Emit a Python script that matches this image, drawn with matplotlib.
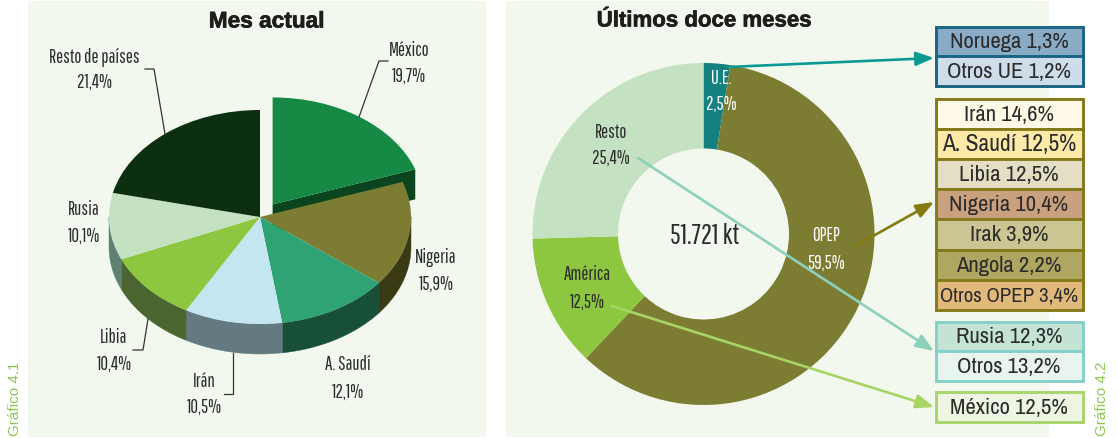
import numpy as np
import matplotlib
matplotlib.use('Agg')
import matplotlib.pyplot as plt
import matplotlib.patheffects as pe
from matplotlib.patches import Rectangle
import logging

logging.getLogger('matplotlib.font_manager').setLevel(logging.ERROR)

W, H = 1118, 439
PANEL = '#f2f8ee'
INK = '#2b2b2b'
NARROW = ['Pathway Gothic One', 'Antonio', 'Liberation Sans']
BOX_FONT = ['Archivo Narrow', 'Liberation Sans']

# Mes actual
pie_names = ['México', 'Nigeria', 'A. Saudí', 'Irán', 'Libia', 'Rusia', 'Resto de países']
pie_values = [19.7, 15.9, 12.1, 10.5, 10.4, 10.1, 21.4]
pie_pct = ['19,7%', '15,9%', '12,1%', '10,5%', '10,4%', '10,1%', '21,4%']
pie_colors = ['#168a45', '#7c7d33', '#2fa374', '#c4e6f0', '#8dc63f', '#c4e2c2', '#0b2f10']
wall_colors = ['#0a4520', '#3a3a14', '#174f39', '#637b80', '#4a6530', '#5f7f70', '#0b2f10']

# Ultimos doce meses
donut_names = ['U.E.', 'OPEP', 'América', 'Resto']
donut_values = [2.5, 59.5, 12.5, 25.4]
donut_pct = ['2,5%', '59,5%', '12,5%', '25,4%']
donut_colors = ['#14807f', '#7c7d33', '#8dc63f', '#c4e2c2']
total_label = '51.721 kt'

# Desglose
ue_rows = ['Noruega 1,3%', 'Otros UE 1,2%']
ue_fills = ['#8aabc6', '#cfdce9']
opep_rows = ['Irán 14,6%', 'A. Saudí 12,5%', 'Libia 12,5%', 'Nigeria 10,4%', 'Irak 3,9%', 'Angola 2,2%', 'Otros OPEP 3,4%']
opep_fills = ['#fff9e8', '#fde9a8', '#e4dfc4', '#c9a17f', '#cbc593', '#aea661', '#e1b97b']
resto_rows = ['Rusia 12,3%', 'Otros 13,2%']
resto_fills = ['#c5e3d5', '#e8f4ee']
america_rows = ['México 12,5%']
america_fills = ['#eef5e3']

# the two long rows are set tighter in the original
row_sizes = {'A. Saudí 12,5%': 17, 'Otros OPEP 3,4%': 15}

fig = plt.figure(figsize=(W / 100, H / 100), dpi=100, facecolor='white')


def px_axes(zorder):
    ax = fig.add_axes([0, 0, 1, 1], zorder=zorder)
    ax.set_xlim(0, W)
    ax.set_ylim(H, 0)
    ax.axis('off')
    return ax


def pie_axes(cx, cy, half_w, half_h):
    return fig.add_axes([(cx - half_w) / W, 1 - (cy + half_h) / H, 2 * half_w / W, 2 * half_h / H], zorder=1)


bg = px_axes(0)
bg.add_patch(Rectangle((28, 2), 458, 436, fc=PANEL, ec='none'))
bg.add_patch(Rectangle((506, 2), 543, 436, fc=PANEL, ec='none'))

# pseudo 3D pie: unit circle squashed to 151x107 px
rx, ry = 151, 107
depth = 30 / ry
xm, ym = 1.2, 1.5
ax1 = pie_axes(260, 218, rx * xm, ry * ym)
explode = [0.144, 0, 0, 0, 0, 0, 0]
ax1.pie(pie_values, colors=pie_colors, startangle=90, counterclock=False, explode=explode,
        wedgeprops=dict(linewidth=0))
ax1.set_aspect('auto')
ax1.set_xlim(-xm, xm)
ax1.set_ylim(-ym, ym)

fracs = np.array(pie_values) / sum(pie_values)
ends = 90 - 360 * np.cumsum(fracs)
starts = np.r_[90, ends[:-1]]
for a0, a1, col in zip(starts[1:], ends[1:], wall_colors[1:]):
    # only the part of the rim on the front half shows
    lo, hi = max(a1, -180), min(a0, 0)
    if hi <= lo:
        continue
    t = np.radians(np.linspace(lo, hi, 60))
    xs = np.r_[np.cos(t), np.cos(t)[::-1]]
    ys = np.r_[np.sin(t), np.sin(t)[::-1] - depth]
    ax1.fill(xs, ys, color=col, lw=0.3, zorder=0.5)

# side face of the pulled out slice
mid = np.radians((starts[0] + ends[0]) / 2)
ox, oy = explode[0] * np.cos(mid), explode[0] * np.sin(mid)
ex, ey = ox + np.cos(np.radians(ends[0])), oy + np.sin(np.radians(ends[0]))
ax1.fill([ox, ex, ex, ox], [oy, ey, ey - depth, oy - depth], color=wall_colors[0], lw=0, zorder=0.5)

# donut
r = 171
ax2 = pie_axes(703.5, 235, r, r)
ax2.pie(donut_values, colors=donut_colors, startangle=90, counterclock=False,
        wedgeprops=dict(width=0.5, linewidth=0))
ax2.set_aspect('auto')
ax2.set_xlim(-1, 1)
ax2.set_ylim(-1, 1)

top = px_axes(2)

# titles, stroked a little to get the heavy weight
heavy = [pe.withStroke(linewidth=0.5, foreground='#1d1d1b')]
top.text(266.5, 22, 'Mes actual', ha='center', va='center', fontsize=16.3, fontweight='bold',
         family='Liberation Sans', color='#1d1d1b', path_effects=heavy)
top.text(704, 22, 'Últimos doce meses', ha='center', va='center', fontsize=16, fontweight='bold',
         family='Liberation Sans', color='#1d1d1b', path_effects=heavy)

# pie labels
pie_pos = [(409, 51, 76), (436, 258, 284), (348, 365, 392), (204, 382, 407),
           (114, 338, 364), (84, 210, 236), (94, 57, 82)]
for name, pct, (x, y1, y2) in zip(pie_names, pie_pct, pie_pos):
    top.text(x, y1, name, ha='center', va='center', fontsize=13.5, family=NARROW, color=INK)
    top.text(x, y2, pct, ha='center', va='center', fontsize=13.5, family=NARROW, color=INK)

# leader lines
leaders = [((388, 62), (379, 62), (359, 118)), ((145, 70), (154, 70), (165, 135)),
           ((133, 351), (143, 351), (148, 320)), ((224, 395), (233, 395), (233, 354))]
for pts in leaders:
    top.plot(*zip(*pts), color='#333333', lw=0.9)

# donut labels
donut_pos = [(721, 78, 104), (826, 236, 263), (587, 275, 302), (611, 133, 158)]
donut_text = ['white', 'white', INK, INK]
for name, pct, (x, y1, y2), col in zip(donut_names, donut_pct, donut_pos, donut_text):
    top.text(x, y1, name, ha='center', va='center', fontsize=13.5, family=NARROW, color=col)
    top.text(x, y2, pct, ha='center', va='center', fontsize=13.5, family=NARROW, color=col)
top.text(705, 236, total_label, ha='center', va='center', fontsize=20, family=NARROW, color=INK)


def box_group(y0, rows, fills, edge, row_h):
    x0, x1 = 935.5, 1082.5
    for i, (label, fill) in enumerate(zip(rows, fills)):
        y = y0 + i * row_h
        top.add_patch(Rectangle((x0, y), x1 - x0, row_h, fc=fill, ec=edge, lw=2.1))
        top.text((x0 + x1) / 2, y + row_h / 2, label, ha='center', va='center',
                 fontsize=row_sizes.get(label, 16.3), family=BOX_FONT, color=INK)


box_group(27.5, ue_rows, ue_fills, '#1a6485', 29.5)
box_group(99.5, opep_rows, opep_fills, '#857a1a', 30.2)
box_group(322.5, resto_rows, resto_fills, '#85d0cb', 29.5)
box_group(393.5, america_rows, america_fills, '#a9d56c', 29.5)

# arrows
arrows = [((728, 68), (934, 59), '#0a9a94'), ((857, 246), (934, 203), '#857a10'),
          ((638, 159), (934, 352), '#8dd0bb'), ((612, 307), (934, 408), '#a6d565')]
for start, end, col in arrows:
    top.annotate('', xy=end, xytext=start,
                 arrowprops=dict(arrowstyle='-|>,head_length=0.9,head_width=0.35', color=col, lw=1.9,
                                 shrinkA=0, shrinkB=0, mutation_scale=12))

# side captions
top.text(15, 436.5, 'Gráfico 4.1', rotation=90, ha='center', va='bottom', fontsize=11,
         family='Liberation Sans', color='#8cc850')
top.text(1102, 436.5, 'Gráfico 4.2', rotation=90, ha='center', va='bottom', fontsize=11,
         family='Liberation Sans', color='#8cc850')

fig.savefig('out.png', dpi=100, facecolor='white')
